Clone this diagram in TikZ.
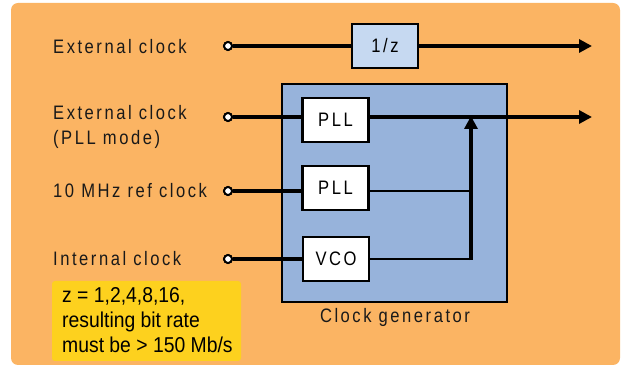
\documentclass[tikz,border=0pt]{standalone}
\usepackage{fontspec}
\setmainfont{Liberation Sans}
\newfontfamily\labfont[FakeStretch=0.85,LetterSpace=13]{Liberation Sans}
\newfontfamily\notefont[FakeStretch=0.9]{Liberation Sans}
\usetikzlibrary{arrows.meta}
\definecolor{bgor}{HTML}{FBB463}
\definecolor{cgblue}{HTML}{97B3DB}
\definecolor{lblue}{HTML}{C6D9F1}
\definecolor{noteyel}{HTML}{FDD11E}
\tikzset{
  lab/.style={font=\labfont\fontsize{19.5}{25}\selectfont, inner sep=0pt, anchor=west, align=left, text=black!90},
  blk/.style={draw, line width=2.4pt, fill=white, minimum width=66pt, minimum height=44pt, inner sep=0pt, font=\labfont\fontsize{19.5}{20}\selectfont},
  pinc/.style={circle, draw, fill=white, line width=1.9pt, minimum size=8pt, inner sep=0pt},
  wire/.style={line width=3.2pt},
  iwire/.style={line width=2.3pt},
  arr/.style={line width=3.2pt, -{Triangle[length=13pt,width=13pt]}},
}
\begin{document}
\begin{tikzpicture}[x=1pt,y=-1pt]
\useasboundingbox (0,0) rectangle (622,366);
\fill[bgor, rounded corners=7pt] (11,3) rectangle (620,365);
% clock generator
\node[draw, line width=2.4pt, fill=cgblue, minimum width=225pt, minimum height=218pt, inner sep=0pt] (cg) at (394.5,193) {};
\node[lab, anchor=center] (cglab) at (395,317) {Clock generator};
% blocks
\node[blk, fill=lblue] (div) at (385,46) {1/z};
\node[blk] (pll1) at (335.5,120) {PLL};
\node[blk] (pll2) at (335.5,188) {PLL};
\node[blk] (vco) at (336,259) {VCO};
% labels
\node[lab] (l1) at (53,47) {External clock};
\node[lab] (l2) at (53,127) {External clock\\(PLL mode)};
\node[lab] (l3) at (53,191) {10 MHz ref clock};
\node[lab] (l4) at (53,259) {Internal clock};
% input pins
\node[pinc] (i1) at (228,46) {};
\node[pinc] (i2) at (228,117) {};
\node[pinc] (i3) at (228,191) {};
\node[pinc] (i4) at (228,259) {};
% outputs
\coordinate (o1) at (592,46);
\coordinate (o2) at (592,117);
\coordinate (j1) at (471,116);
\coordinate (j3) at (471,191);
\coordinate (j4) at (471,259);
% wires
\draw[wire] (i1) -- (div);
\draw[arr] (div) -- (o1);
\draw[wire] (i2) -- (i2 -| pll1.west);
\draw[arr] (i2 -| pll1.east) -- (o2);
\draw[wire] (i3) -- (i3 -| pll2.west);
\draw[iwire] (i3 -| pll2.east) -- (j3);
\draw[wire] (i4) -- (vco);
\draw[iwire] (vco) -- (j4);
\draw[arr] ([yshift=-1.1pt]j4) -- (j1);
% redraw pins on top
\node[pinc] at (i1) {};
\node[pinc] at (i2) {};
\node[pinc] at (i3) {};
\node[pinc] at (i4) {};
% note
\node[fill=noteyel, rounded corners=3pt, minimum width=189pt, minimum height=80pt, inner sep=0pt] (note) at (146.5,321) {};
\node[font=\notefont\fontsize{21.5}{25}\selectfont, align=left, anchor=north west, inner sep=0pt] (notetxt) at (62,287) {z = 1,2,4,8,16,\\resulting bit rate\\must be > 150 Mb/s};
\end{tikzpicture}
\end{document}
